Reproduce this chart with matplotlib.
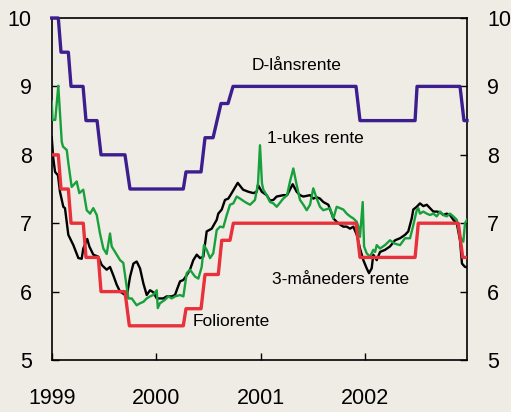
import matplotlib
matplotlib.use("Agg")
import matplotlib.pyplot as plt
from matplotlib import font_manager

# Foliorente (step series: change points)
folio_x = [1999.000, 1999.063, 1999.089, 1999.159, 1999.185, 1999.302, 1999.328,
           1999.446, 1999.472, 1999.701, 1999.743, 2000.259, 2000.285, 2000.429,
           2000.467, 2000.594, 2000.627, 2000.706, 2000.738, 2001.912, 2001.950,
           2002.477, 2002.508, 2002.891, 2002.933, 2002.974]
folio_y = [8.0, 8.0, 7.5, 7.5, 7.0, 7.0, 6.5,
           6.5, 6.0, 6.0, 5.5, 5.5, 5.75, 5.75,
           6.25, 6.25, 6.75, 6.75, 7.0, 7.0, 6.5,
           6.5, 7.0, 7.0, 6.5, 6.5]

# D-lånsrente
dlan_x = [1999.000, 1999.063, 1999.089, 1999.159, 1999.185, 1999.300, 1999.328,
          1999.434, 1999.472, 1999.701, 1999.749, 2000.259, 2000.285, 2000.429,
          2000.467, 2000.544, 2000.620, 2000.687, 2000.735, 2001.912, 2001.950,
          2002.477, 2002.496, 2002.907, 2002.945, 2002.974]
dlan_y = [10.0, 10.0, 9.5, 9.5, 9.0, 9.0, 8.5,
          8.5, 8.0, 8.0, 7.5, 7.5, 7.75, 7.75,
          8.25, 8.25, 8.75, 8.75, 9.0, 9.0, 8.5,
          8.5, 9.0, 9.0, 8.5, 8.5]

# 3-måneders rente
m3_x = [1999.000, 1999.015, 1999.032, 1999.060, 1999.079, 1999.111, 1999.127, 1999.159,
        1999.207, 1999.255, 1999.287, 1999.302, 1999.340, 1999.360, 1999.398, 1999.446,
        1999.478, 1999.526, 1999.558, 1999.589, 1999.622, 1999.654, 1999.685, 1999.718,
        1999.750, 1999.782, 1999.813, 1999.845, 1999.877, 1999.909, 1999.941, 1999.972,
        2000.005, 2000.068, 2000.100, 2000.148, 2000.180, 2000.196, 2000.228, 2000.260,
        2000.292, 2000.323, 2000.355, 2000.388, 2000.419, 2000.451, 2000.483, 2000.531,
        2000.579, 2000.594, 2000.627, 2000.658, 2000.690, 2000.722, 2000.780, 2000.831,
        2000.881, 2000.929, 2000.962, 2000.974, 2001.010, 2001.057, 2001.089, 2001.121,
        2001.153, 2001.216, 2001.252, 2001.306, 2001.344, 2001.376, 2001.408, 2001.472,
        2001.503, 2001.536, 2001.567, 2001.599, 2001.647, 2001.679, 2001.695, 2001.727,
        2001.759, 2001.790, 2001.823, 2001.855, 2001.886, 2001.919, 2001.950, 2001.982,
        2002.014, 2002.036, 2002.062, 2002.077, 2002.110, 2002.142, 2002.189, 2002.237,
        2002.285, 2002.333, 2002.381, 2002.412, 2002.445, 2002.460, 2002.493, 2002.524,
        2002.556, 2002.589, 2002.620, 2002.652, 2002.684, 2002.716, 2002.747, 2002.780,
        2002.811, 2002.843, 2002.876, 2002.907, 2002.926, 2002.955, 2002.974]
m3_y = [8.26, 7.95, 7.75, 7.70, 7.46, 7.24, 7.22, 6.83,
        6.68, 6.49, 6.48, 6.63, 6.77, 6.66, 6.54, 6.51,
        6.39, 6.32, 6.36, 6.24, 6.10, 6.00, 5.97, 5.93,
        6.22, 6.41, 6.44, 6.34, 6.12, 5.95, 6.02, 5.99,
        5.90, 5.90, 5.93, 5.93, 5.95, 6.02, 6.15, 6.17,
        6.24, 6.32, 6.46, 6.54, 6.49, 6.51, 6.88, 6.92,
        7.05, 7.14, 7.20, 7.34, 7.36, 7.44, 7.59, 7.49,
        7.46, 7.44, 7.46, 7.56, 7.46, 7.41, 7.33, 7.34,
        7.39, 7.41, 7.41, 7.57, 7.46, 7.41, 7.39, 7.41,
        7.36, 7.38, 7.36, 7.31, 7.27, 7.14, 7.07, 7.02,
        6.98, 6.95, 6.95, 6.92, 6.95, 6.83, 6.63, 6.46,
        6.34, 6.27, 6.34, 6.54, 6.46, 6.58, 6.61, 6.66,
        6.75, 6.78, 6.83, 6.88, 7.07, 7.20, 7.24, 7.29,
        7.25, 7.27, 7.22, 7.17, 7.17, 7.16, 7.12, 7.14,
        7.12, 7.05, 7.00, 6.75, 6.41, 6.36, 6.36]

# 1-ukes rente
w1_x = [1999.000, 1999.008, 1999.034, 1999.063, 1999.096, 1999.108, 1999.144, 1999.159,
        1999.191, 1999.239, 1999.264, 1999.302, 1999.335, 1999.367, 1999.398, 1999.431,
        1999.462, 1999.494, 1999.526, 1999.558, 1999.574, 1999.622, 1999.654, 1999.685,
        1999.733, 1999.766, 1999.813, 1999.845, 1999.877, 1999.909, 1999.941, 1999.972,
        2000.005, 2000.015, 2000.036, 2000.084, 2000.116, 2000.148, 2000.180, 2000.228,
        2000.260, 2000.292, 2000.323, 2000.371, 2000.403, 2000.435, 2000.457, 2000.483,
        2000.515, 2000.546, 2000.579, 2000.611, 2000.642, 2000.675, 2000.706, 2000.738,
        2000.770, 2000.802, 2000.850, 2000.898, 2000.945, 2000.974, 2000.993, 2001.012,
        2001.025, 2001.057, 2001.089, 2001.121, 2001.153, 2001.216, 2001.252, 2001.280,
        2001.312, 2001.344, 2001.376, 2001.408, 2001.440, 2001.472, 2001.503, 2001.536,
        2001.567, 2001.599, 2001.663, 2001.695, 2001.727, 2001.759, 2001.790, 2001.823,
        2001.855, 2001.886, 2001.919, 2001.934, 2001.950, 2001.976, 2001.989, 2002.014,
        2002.046, 2002.077, 2002.094, 2002.110, 2002.142, 2002.189, 2002.237, 2002.285,
        2002.333, 2002.381, 2002.429, 2002.460, 2002.493, 2002.508, 2002.524, 2002.556,
        2002.589, 2002.620, 2002.652, 2002.684, 2002.716, 2002.747, 2002.780, 2002.811,
        2002.843, 2002.876, 2002.907, 2002.939, 2002.955, 2002.974]
w1_y = [8.78, 8.51, 8.51, 9.01, 8.19, 8.12, 8.07, 7.88,
        7.53, 7.61, 7.44, 7.49, 7.19, 7.14, 7.22, 7.12,
        6.85, 6.63, 6.55, 6.85, 6.66, 6.54, 6.46, 6.42,
        5.90, 5.90, 5.80, 5.83, 5.85, 5.90, 5.93, 5.95,
        6.02, 5.76, 5.83, 5.88, 5.93, 5.90, 5.93, 5.95,
        5.93, 6.27, 6.32, 6.22, 6.19, 6.36, 6.68, 6.61,
        6.49, 6.56, 6.90, 6.95, 6.94, 7.12, 7.27, 7.29,
        7.39, 7.36, 7.31, 7.27, 7.34, 7.58, 8.14, 7.58,
        7.49, 7.41, 7.31, 7.29, 7.24, 7.36, 7.41, 7.61,
        7.80, 7.56, 7.34, 7.27, 7.19, 7.27, 7.51, 7.36,
        7.24, 7.19, 7.22, 7.07, 7.24, 7.22, 7.20, 7.14,
        7.10, 7.07, 7.02, 6.95, 6.80, 7.31, 6.66, 6.56,
        6.51, 6.61, 6.58, 6.68, 6.63, 6.68, 6.75, 6.70,
        6.68, 6.78, 6.78, 6.97, 7.19, 7.22, 7.14, 7.17,
        7.14, 7.12, 7.14, 7.10, 7.17, 7.12, 7.10, 7.14,
        7.10, 7.05, 6.80, 6.73, 7.00, 7.05]

year_ticks = [1999, 2000, 2001, 2002]
rate_ticks = [5, 6, 7, 8, 9, 10]

bg = "#efece5"

# narrow font if there is one, otherwise plain Liberation Sans a bit smaller
names = {f.name for f in font_manager.fontManager.ttflist}
if "Liberation Sans Narrow" in names:
    plt.rcParams["font.family"] = ["Liberation Sans Narrow", "DejaVu Sans"]
    tick_fs, label_fs = 18, 15.5
else:
    plt.rcParams["font.family"] = ["Liberation Sans", "DejaVu Sans"]
    tick_fs, label_fs = 15.5, 12.5

fig = plt.figure(figsize=(5.11, 4.12), dpi=100, facecolor=bg)
ax = fig.add_axes([0.1012, 0.1262, 0.8127, 0.8301])
ax.set_facecolor(bg)

ax.plot(m3_x, m3_y, color="black", lw=1.7, zorder=3)
ax.plot(w1_x, w1_y, color="#18a03c", lw=1.7, zorder=4)
ax.plot(folio_x, folio_y, color="#e8313a", lw=2.4, zorder=5)
ax.plot(dlan_x, dlan_y, color="#3d1e8e", lw=2.4, zorder=6, clip_on=False)

ax.text(2000.917, 9.31, "D-lånsrente", fontsize=label_fs, va="center", ha="left")
ax.text(2001.057, 8.24, "1-ukes rente", fontsize=label_fs, va="center", ha="left")
ax.text(2001.105, 6.17, "3-måneders rente", fontsize=label_fs, va="center", ha="left")
ax.text(2000.349, 5.56, "Foliorente", fontsize=label_fs, va="center", ha="left")

ax.set_xlim(1999.0, 2002.974)
ax.set_ylim(5, 10)
ax.set_xticks(year_ticks)
ax.set_xticklabels([str(y) for y in year_ticks])
ax.set_yticks(rate_ticks)
ax.set_yticklabels([str(v) for v in rate_ticks])

for s in ax.spines.values():
    s.set_linewidth(1.2)
    s.set_color("black")

ax.tick_params(axis="y", direction="in", length=5, width=1, left=True, right=True,
               labelleft=True, labelright=True, labelsize=tick_fs, pad=14.5)
ax.tick_params(axis="x", direction="in", length=5, width=1, labelsize=tick_fs, pad=20)

fig.savefig("out.png", dpi=100, facecolor=bg)
